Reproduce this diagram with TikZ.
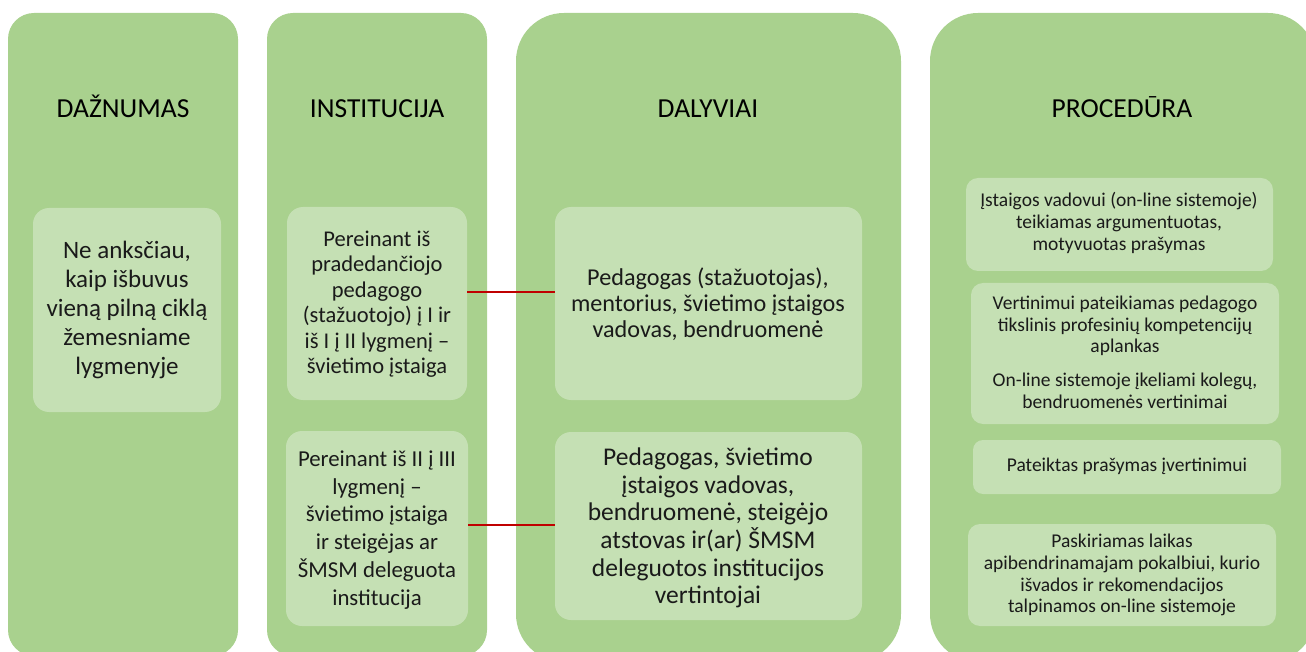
\documentclass[tikz,border=0pt]{standalone}
\usepackage{fontspec}
\setmainfont{Carlito}
\definecolor{colgreen}{HTML}{A9D18E}
\definecolor{boxgreen}{HTML}{C5E0B4}
\definecolor{txt}{HTML}{1A1A1A}
\definecolor{linkred}{HTML}{C00000}
\tikzset{
  column/.style={fill=colgreen, draw=none},
  inbox/.style={fill=boxgreen, draw=none, rounded corners=16pt},
  header/.style={text=black, font=\fontsize{27.5}{32}\selectfont, inner sep=0pt, anchor=base},
  btxt/.style={text=txt, align=center, inner sep=0pt},
  small/.style={btxt, font=\fontsize{19.5}{21.8}\selectfont},
  link/.style={draw=linkred, line width=1.6pt}
}
\begin{document}
\begin{tikzpicture}[x=1pt,y=-1pt]
\useasboundingbox (0,0) rectangle (1306,652);
\clip (0,0) rectangle (1306,652);
% columns
\fill[column, rounded corners=26pt] (8,13) rectangle (238,656);
\fill[column, rounded corners=26pt] (267,13) rectangle (487,656);
\fill[column, rounded corners=48pt] (516,13) rectangle (901,662);
\fill[column, rounded corners=48pt] (930,13) rectangle (1316,662);
% headers
\node[header] (h1) at (123,118) {DAŽNUMAS};
\node[header] (h2) at (377,118) {INSTITUCIJA};
\node[header] (h3) at (708,118) {DALYVIAI};
\node[header] (h4) at (1122,118) {PROCEDŪRA};
% column 1
\fill[inbox] (33,208) rectangle (221,412);
\node[btxt, font=\fontsize{25}{28.8}\selectfont] (c1) at (127,310)
  {Ne anksčiau,\\kaip išbuvus\\vieną pilną ciklą\\žemesniame\\lygmenyje};
% column 2
\fill[inbox] (287,207) rectangle (467,400);
\node[btxt, font=\fontsize{22.5}{25.5}\selectfont] (i1) at (377,304)
  {Pereinant iš\\pradedančiojo\\pedagogo\\(stažuotojo) į I ir\\iš I į II lygmenį –\\švietimo įstaiga};
\fill[inbox] (286,431) rectangle (468,626);
\node[btxt, font=\fontsize{22.8}{27.8}\selectfont] (i2) at (377,530)
  {Pereinant iš II į III\\lygmenį –\\švietimo įstaiga\\ir steigėjas ar\\ŠMSM deleguota\\institucija};
% column 3
\fill[inbox] (555,207) rectangle (862,400);
\node[btxt, font=\fontsize{24.2}{26}\selectfont] (d1) at (708,304)
  {Pedagogas (stažuotojas),\\mentorius, švietimo įstaigos\\vadovas, bendruomenė};
\fill[inbox] (555,432) rectangle (862,620);
\node[btxt, font=\fontsize{25.5}{27.6}\selectfont] (d2) at (708,528)
  {Pedagogas, švietimo\\įstaigos vadovas,\\bendruomenė, steigėjo\\atstovas ir(ar) ŠMSM\\deleguotos institucijos\\vertintojai};
% connectors
\coordinate (a1) at (467,292);
\coordinate (b1) at (555,292);
\coordinate (a2) at (468,525);
\coordinate (b2) at (555,525);
\draw[link] (a1) -- (b1);
\draw[link] (a2) -- (b2);
% column 4
\fill[inbox, rounded corners=12pt] (966,178) rectangle (1273,271);
\node[small] (p1) at (1119,223)
  {Įstaigos vadovui (on-line sistemoje)\\teikiamas argumentuotas,\\motyvuotas prašymas};
\fill[inbox, rounded corners=12pt] (971,283) rectangle (1279,424);
\node[small] (p2) at (1125,326)
  {Vertinimui pateikiamas pedagogo\\tikslinis profesinių kompetencijų\\aplankas};
\node[small] (p2b) at (1125,391)
  {On-line sistemoje įkeliami kolegų,\\bendruomenės vertinimai};
\fill[inbox, rounded corners=10pt] (973,440) rectangle (1281,494);
\node[small] (p3) at (1127,466)
  {Pateiktas prašymas įvertinimui};
\fill[inbox, rounded corners=12pt] (968,524) rectangle (1276,626);
\node[small] (p4) at (1122,575)
  {Paskiriamas laikas\\apibendrinamajam pokalbiui, kurio\\išvados ir rekomendacijos\\talpinamos on-line sistemoje};
\end{tikzpicture}
\end{document}
